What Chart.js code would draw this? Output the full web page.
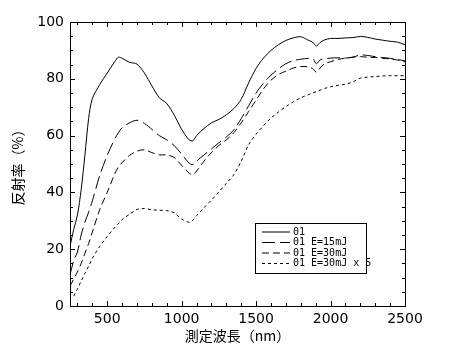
<!DOCTYPE html>
<html><head><meta charset="utf-8">
<script src="https://cdn.jsdelivr.net/npm/chart.js@4.4.1/dist/chart.umd.min.js"></script>
<style>html,body{margin:0;padding:0;background:#fff;}</style>
</head><body>
<canvas id="c" width="450" height="359"></canvas>
<script>
const wavelengths = [250,275,300,325,350,375,400,450,500,550,575,600,650,700,750,800,850,900,950,1000,1050,1075,1100,1150,1200,1250,1300,1350,1400,1450,1500,1550,1600,1650,1700,1750,1800,1850,1880,1905,1930,1960,2000,2050,2100,2150,2200,2250,2300,2350,2400,2450,2500];
const r01 = [21,27,32,41,53,66,73,78,82,86,87.6,87.2,85.8,85.2,82,77.5,73.3,71.3,67.2,62.2,58.5,58.2,60,62.5,64.5,65.7,67.3,69.5,72.8,78.6,83.7,87.3,90,92,93.5,94.4,94.8,93.6,92.9,91.5,92.8,93.7,94.2,94.2,94.4,94.5,94.9,94.6,94.0,93.6,93.2,92.9,92.0];
const r01_15mJ = [11,16,19,25,29.5,33,37,46,53,58.8,61,62.8,64.5,65.4,64.3,62.2,60,58.5,56.5,53.5,50.3,49.8,51,53.2,55.3,57.5,59.5,62,66,70.5,75,78.5,81.3,83.5,85.3,86.4,86.9,87.2,87.2,85.3,86.7,87,87.3,87.4,87.3,87.6,88.4,88.2,87.8,87.5,87.2,86.8,86.3];
const r01_30mJ = [7,9.5,12,15,18.5,22,26,34,40,46.5,49,50.5,53,54.5,55,54,53.2,53.2,52.3,49.5,46.8,46.2,47.5,51,54,56.5,58.5,61,64.5,68.5,72.5,76.5,79.5,81.5,82.7,83.8,84.3,84.2,83.6,82.3,83.8,85.3,86,86.8,87.3,87.6,87.8,87.6,87.5,87.2,87,86.6,86];
const r01_30mJ_x5 = [null,3.5,6,8.8,11.5,14,16.8,21,24.5,27.6,29,30.4,32.3,34,34.3,33.9,33.7,33.6,32.8,30.6,29.5,30.2,31.8,34.6,37.3,40.2,43.2,46.2,51,56.8,60.5,63.5,66.2,68.3,70.2,71.9,73.3,74.4,75,75.5,76,76.6,77.2,77.7,78.1,78.9,80.2,80.6,80.8,81,81.1,81.1,81.1];
const seriesLabels = ['01', '01 E=15mJ', '01 E=30mJ', '01 E=30mJ x 5'];
const xTicks = [500,1000,1500,2000,2500];
const yTicks = [0,20,40,60,80,100];
const xTitle = '測定波長（nm）';
const yTitle = '反射率（%）';

function pts(vals){ return wavelengths.map((w,i)=>({x:w,y:vals[i]})); }
const dashes = [[], [13,5], [7,4], [3,3]];
const seriesVals = [r01, r01_15mJ, r01_30mJ, r01_30mJ_x5];

const frameTicks = {
  id: 'frameTicks',
  afterDraw(chart){
    const ctx = chart.ctx, a = chart.chartArea, xs = chart.scales.x, ys = chart.scales.y;
    ctx.save();
    ctx.strokeStyle = '#000'; ctx.lineWidth = 1;
    ctx.strokeRect(Math.round(a.left)+0.5, Math.round(a.top)+0.5, Math.round(a.right-a.left), Math.round(a.bottom-a.top));
    ctx.beginPath();
    for (let v = xs.min + 50; v <= xs.max; v += 100) {
      const len = (v % 500 === 0) ? 5 : 3;
      const px = Math.round(xs.getPixelForValue(v)) + 0.5;
      ctx.moveTo(px, a.bottom); ctx.lineTo(px, a.bottom - len);
      ctx.moveTo(px, a.top); ctx.lineTo(px, a.top + len);
    }
    for (let v = ys.min; v <= ys.max; v += 5) {
      const len = (v % 20 === 0) ? 5 : 3;
      const py = Math.round(ys.getPixelForValue(v)) + 0.5;
      ctx.moveTo(a.left, py); ctx.lineTo(a.left + len, py);
      ctx.moveTo(a.right, py); ctx.lineTo(a.right - len, py);
    }
    ctx.stroke();
    ctx.restore();
  }
};

const boxLegend = {
  id: 'boxLegend',
  afterDraw(chart){
    const ctx = chart.ctx, a = chart.chartArea;
    const bx = Math.round(a.left + 185), by = Math.round(a.top + 201), bw = 111, bh = 50;
    ctx.save();
    ctx.strokeStyle = '#000'; ctx.lineWidth = 1;
    ctx.strokeRect(bx + 0.5, by + 0.5, bw, bh);
    ctx.font = '10px "DejaVu Sans Mono", monospace';
    ctx.fillStyle = '#000'; ctx.textBaseline = 'middle'; ctx.textAlign = 'left';
    chart.data.datasets.forEach((ds, i) => {
      const y = by + 9 + i * 10.5;
      ctx.setLineDash(ds.borderDash || []);
      ctx.lineWidth = 1;
      ctx.beginPath(); ctx.moveTo(bx + 7, y); ctx.lineTo(bx + 35, y); ctx.stroke();
      ctx.setLineDash([]);
      ctx.fillText(ds.label, bx + 38, y);
    });
    ctx.restore();
  }
};

new Chart(document.getElementById('c'), {
  type: 'line',
  data: {
    datasets: seriesVals.map((v, i) => ({
      label: seriesLabels[i],
      data: pts(v),
      borderColor: '#000',
      borderWidth: 1,
      borderDash: dashes[i],
      pointRadius: 0,
      tension: 0.3,
      fill: false,
      spanGaps: false
    }))
  },
  options: {
    responsive: false,
    devicePixelRatio: 1,
    animation: false,
    layout: { padding: { top: 22, right: 45, left: 0, bottom: 0 } },
    plugins: { legend: { display: false }, tooltip: { enabled: false } },
    scales: {
      x: {
        type: 'linear', min: 250, max: 2500,
        grid: { display: false, drawTicks: false }, border: { display: false },
        afterBuildTicks: s => { s.ticks = xTicks.map(v => ({ value: v })); },
        afterFit: s => { s.height = 53; },
        ticks: { color: '#000', padding: 5, maxRotation: 0, callback: v => String(v), font: { family: '"DejaVu Sans"', size: 14 } },
        title: { display: true, text: xTitle, color: '#000', padding: { top: 0, bottom: 15 }, font: { family: '"Noto Sans CJK JP", "Noto Sans CJK SC"', size: 14 } }
      },
      y: {
        min: 0, max: 100,
        grid: { display: false, drawTicks: false }, border: { display: false },
        afterBuildTicks: s => { s.ticks = yTicks.map(v => ({ value: v })); },
        afterFit: s => { s.width = 70; },
        ticks: { color: '#000', padding: 6, callback: v => String(v), font: { family: '"DejaVu Sans"', size: 14 } },
        title: { display: true, text: yTitle, color: '#000', padding: { top: 9, bottom: 0 }, font: { family: '"Noto Sans CJK JP", "Noto Sans CJK SC"', size: 14 } }
      }
    }
  },
  plugins: [frameTicks, boxLegend]
});
</script>
</body></html>
